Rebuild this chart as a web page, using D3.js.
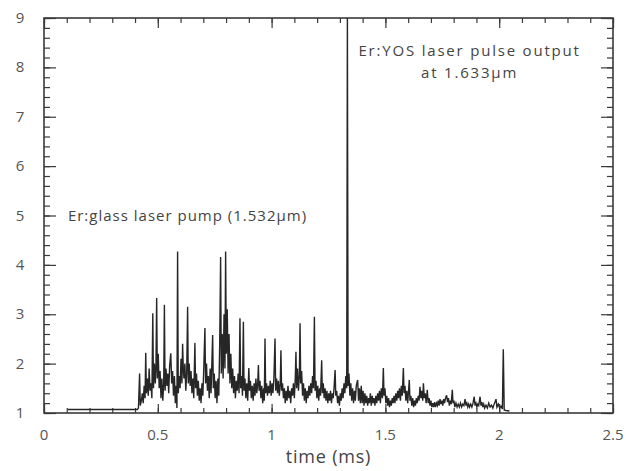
<!DOCTYPE html>
<html>
<head>
<meta charset="utf-8">
<script src="https://cdn.jsdelivr.net/npm/d3@7"></script>
<style>
  body { margin: 0; background: #fff; }
  svg { font-family: "Open Sans", "DejaVu Sans", sans-serif; }
</style>
</head>
<body>
<svg id="chart" width="630" height="471"></svg>
<script>
// pump trace (time in ms, signal in arb. units)
const time = [
  0.105, 0.410, 0.415, 0.420, 0.423, 0.428, 0.432, 0.436, 0.440, 0.444,
  0.447, 0.450, 0.454, 0.458, 0.462, 0.466, 0.470, 0.474, 0.478, 0.481,
  0.485, 0.489, 0.492, 0.495, 0.498, 0.502, 0.506, 0.510, 0.514, 0.518,
  0.522, 0.526, 0.529, 0.532, 0.536, 0.540, 0.544, 0.548, 0.552, 0.557,
  0.561, 0.565, 0.569, 0.573, 0.577, 0.581, 0.584, 0.587, 0.590, 0.594,
  0.598, 0.602, 0.606, 0.609, 0.612, 0.615, 0.619, 0.623, 0.627, 0.631,
  0.634, 0.638, 0.642, 0.646, 0.650, 0.654, 0.658, 0.663, 0.666, 0.670,
  0.674, 0.678, 0.682, 0.686, 0.690, 0.694, 0.698, 0.702, 0.707, 0.710,
  0.714, 0.718, 0.722, 0.726, 0.730, 0.734, 0.738, 0.741, 0.744, 0.748,
  0.752, 0.756, 0.760, 0.764, 0.768, 0.772, 0.776, 0.779, 0.783, 0.787,
  0.791, 0.795, 0.798, 0.801, 0.805, 0.809, 0.813, 0.817, 0.821, 0.825,
  0.829, 0.833, 0.837, 0.841, 0.845, 0.849, 0.853, 0.857, 0.861, 0.864,
  0.868, 0.872, 0.876, 0.879, 0.883, 0.887, 0.891, 0.895, 0.900, 0.903,
  0.907, 0.911, 0.915, 0.919, 0.923, 0.927, 0.931, 0.935, 0.939, 0.942,
  0.945, 0.949, 0.953, 0.957, 0.961, 0.965, 0.968, 0.971, 0.974, 0.978,
  0.982, 0.986, 0.990, 0.994, 0.998, 1.002, 1.006, 1.010, 1.015, 1.018,
  1.022, 1.026, 1.030, 1.034, 1.038, 1.041, 1.044, 1.048, 1.052, 1.056,
  1.060, 1.064, 1.068, 1.072, 1.076, 1.080, 1.084, 1.088, 1.092, 1.096,
  1.100, 1.104, 1.107, 1.110, 1.114, 1.118, 1.122, 1.125, 1.128, 1.132,
  1.136, 1.140, 1.144, 1.148, 1.152, 1.156, 1.160, 1.164, 1.168, 1.172,
  1.176, 1.180, 1.184, 1.188, 1.191, 1.195, 1.199, 1.203, 1.207, 1.211,
  1.215, 1.220, 1.223, 1.227, 1.231, 1.235, 1.239, 1.243, 1.247, 1.251,
  1.255, 1.259, 1.263, 1.267, 1.271, 1.275, 1.279, 1.282, 1.286, 1.290,
  1.294, 1.298, 1.302, 1.306, 1.310, 1.314, 1.318, 1.322, 1.326, 1.330,
  1.333, 1.336, 1.340, 1.344, 1.348, 1.352, 1.356, 1.360, 1.364, 1.368,
  1.372, 1.378, 1.382, 1.386, 1.390, 1.394, 1.398, 1.402, 1.406, 1.410,
  1.414, 1.418, 1.422, 1.426, 1.430, 1.434, 1.438, 1.442, 1.446, 1.450,
  1.454, 1.458, 1.462, 1.466, 1.470, 1.474, 1.478, 1.482, 1.487, 1.491,
  1.494, 1.498, 1.502, 1.506, 1.510, 1.514, 1.518, 1.522, 1.526, 1.530,
  1.534, 1.538, 1.542, 1.546, 1.550, 1.554, 1.558, 1.562, 1.566, 1.570,
  1.574, 1.579, 1.582, 1.586, 1.590, 1.594, 1.598, 1.605, 1.608, 1.612,
  1.616, 1.620, 1.624, 1.628, 1.632, 1.636, 1.640, 1.644, 1.648, 1.652,
  1.656, 1.660, 1.664, 1.667, 1.671, 1.675, 1.679, 1.684, 1.688, 1.692,
  1.696, 1.700, 1.704, 1.708, 1.712, 1.716, 1.720, 1.724, 1.728, 1.732,
  1.736, 1.740, 1.744, 1.748, 1.752, 1.756, 1.760, 1.764, 1.769, 1.773,
  1.777, 1.781, 1.785, 1.789, 1.794, 1.797, 1.801, 1.805, 1.810, 1.815,
  1.820, 1.825, 1.830, 1.835, 1.840, 1.845, 1.850, 1.854, 1.858, 1.862,
  1.866, 1.870, 1.875, 1.880, 1.885, 1.890, 1.894, 1.898, 1.902, 1.906,
  1.910, 1.916, 1.920, 1.924, 1.928, 1.932, 1.936, 1.942, 1.948, 1.954,
  1.960, 1.966, 1.972, 1.978, 1.986, 1.990, 1.996, 2.002, 2.008, 2.014,
  2.018, 2.022, 2.030, 2.045
];

const signal = [
  1.07, 1.07, 1.10, 1.80, 1.15, 1.25, 1.40, 1.20, 1.55, 1.30,
  2.22, 1.40, 1.70, 1.35, 1.90, 1.45, 1.60, 1.30, 3.02, 1.50,
  2.00, 1.60, 1.95, 3.33, 1.70, 2.20, 1.50, 1.85, 1.30, 1.70,
  1.25, 1.60, 3.19, 1.45, 1.90, 1.55, 1.80, 1.40, 1.95, 2.21,
  1.60, 1.85, 1.35, 1.75, 1.20, 1.55, 1.10, 4.27, 1.40, 1.75,
  1.50, 2.10, 1.60, 2.40, 1.90, 1.70, 2.00, 1.45, 1.80, 3.15,
  1.60, 2.00, 1.55, 1.85, 1.40, 1.70, 1.30, 2.42, 1.50, 1.80,
  1.35, 1.65, 1.25, 1.50, 1.20, 1.60, 1.35, 1.90, 2.72, 1.60,
  2.00, 1.45, 1.75, 1.30, 1.90, 1.40, 2.10, 2.58, 1.50, 1.80,
  1.30, 1.65, 1.20, 1.70, 1.35, 2.40, 4.16, 1.80, 2.60, 1.70,
  3.00, 1.90, 4.27, 2.20, 3.10, 1.80, 2.60, 1.60, 2.20, 1.50,
  1.90, 1.40, 1.75, 1.30, 1.65, 1.45, 1.80, 1.40, 2.92, 1.50,
  1.75, 1.35, 2.85, 1.45, 1.70, 1.30, 1.60, 1.25, 1.91, 1.45,
  1.65, 1.30, 1.55, 1.25, 1.60, 1.35, 1.70, 1.40, 1.60, 1.97,
  1.45, 1.65, 1.30, 1.55, 1.20, 1.50, 1.25, 2.51, 1.40, 1.60,
  1.35, 1.55, 1.40, 1.65, 1.35, 1.60, 1.40, 1.70, 2.51, 1.45,
  1.70, 1.40, 1.65, 1.35, 1.60, 2.27, 1.45, 1.60, 1.30, 1.50,
  1.20, 1.45, 1.25, 1.55, 1.30, 1.45, 1.20, 1.50, 1.35, 1.60,
  1.30, 1.70, 2.24, 1.50, 1.90, 1.45, 1.75, 2.82, 1.60, 1.85,
  1.35, 1.60, 1.25, 1.50, 1.20, 1.45, 1.30, 1.55, 1.35, 1.60,
  1.40, 1.75, 1.50, 2.95, 1.45, 1.65, 1.30, 1.55, 1.25, 1.50,
  1.35, 2.07, 1.40, 1.60, 1.30, 1.50, 1.25, 1.45, 1.20, 1.40,
  1.25, 1.45, 1.20, 1.40, 1.30, 1.55, 1.87, 1.35, 1.45, 1.20,
  1.35, 1.15, 1.40, 1.25, 1.50, 1.30, 1.60, 1.40, 1.75, 1.50,
  9.00, 1.55, 1.80, 1.35, 1.60, 1.25, 1.50, 1.20, 1.45, 1.25,
  1.55, 1.67, 1.25, 1.50, 1.20, 1.55, 1.20, 1.45, 1.15, 1.40,
  1.20, 1.35, 1.15, 1.30, 1.20, 1.40, 1.15, 1.35, 1.20, 1.30,
  1.15, 1.35, 1.20, 1.40, 1.25, 1.45, 1.20, 1.50, 1.30, 1.91,
  1.35, 1.50, 1.20, 1.35, 1.15, 1.30, 1.12, 1.25, 1.15, 1.30,
  1.20, 1.35, 1.20, 1.40, 1.25, 1.45, 1.30, 1.50, 1.25, 1.55,
  1.35, 1.91, 1.40, 1.55, 1.25, 1.45, 1.20, 1.67, 1.25, 1.35,
  1.15, 1.30, 1.12, 1.25, 1.15, 1.30, 1.20, 1.35, 1.25, 1.53,
  1.30, 1.45, 1.25, 1.60, 1.30, 1.40, 1.20, 1.47, 1.20, 1.30,
  1.15, 1.25, 1.12, 1.20, 1.12, 1.22, 1.12, 1.20, 1.15, 1.25,
  1.15, 1.28, 1.18, 1.25, 1.15, 1.28, 1.20, 1.30, 1.36, 1.22,
  1.30, 1.15, 1.25, 1.18, 1.47, 1.20, 1.25, 1.12, 1.20, 1.12,
  1.18, 1.12, 1.20, 1.12, 1.18, 1.15, 1.28, 1.15, 1.20, 1.12,
  1.18, 1.12, 1.18, 1.12, 1.20, 1.33, 1.15, 1.20, 1.12, 1.18,
  1.15, 1.33, 1.15, 1.22, 1.12, 1.18, 1.10, 1.16, 1.10, 1.20,
  1.12, 1.16, 1.10, 1.18, 1.28, 1.12, 1.18, 1.10, 1.14, 1.08,
  2.29, 1.06, 1.05, 1.04
];

const xTicks = [0, 0.5, 1, 1.5, 2, 2.5];
const xTickLabels = ['0', '0.5', '1', '1.5', '2', '2.5'];
const yTicks = [1, 2, 3, 4, 5, 6, 7, 8, 9];

const svg = d3.select('#chart');
const margin = { top: 18, right: 17, bottom: 58, left: 44 };
const width = 630 - margin.left - margin.right;
const height = 471 - margin.top - margin.bottom;

const x = d3.scaleLinear().domain([0, 2.5]).range([0, width]);
const y = d3.scaleLinear().domain([1, 9]).range([height, 0]);

const g = svg.append('g').attr('transform', `translate(${margin.left},${margin.top})`);

const ink = '#3a3a3a';
const minorX = d3.range(0, 2.501, 0.1);
const minorY = d3.range(1, 9.001, 0.2);

// inward minor + major ticks on all four sides
function ticks(axis, vals, size) {
  return axis.tickValues(vals).tickSize(-size).tickFormat('');
}
g.append('g').attr('transform', `translate(0,${height})`).call(ticks(d3.axisBottom(x), minorX, 5));
g.append('g').attr('transform', `translate(0,${height})`).call(ticks(d3.axisBottom(x), xTicks, 9));
g.append('g').call(ticks(d3.axisTop(x), minorX, 5));
g.append('g').call(ticks(d3.axisTop(x), xTicks, 10));
g.append('g').call(ticks(d3.axisLeft(y), minorY, 6));
g.append('g').call(ticks(d3.axisLeft(y), yTicks, 12));
g.append('g').attr('transform', `translate(${width},0)`).call(ticks(d3.axisRight(y), minorY, 6));
g.append('g').attr('transform', `translate(${width},0)`).call(ticks(d3.axisRight(y), yTicks, 12));

g.selectAll('.domain').remove();
g.selectAll('.tick line').attr('stroke', ink).attr('stroke-width', 1.2);

g.append('rect')
  .attr('width', width)
  .attr('height', height)
  .attr('fill', 'none')
  .attr('stroke', ink)
  .attr('stroke-width', 1.6);

// tick labels
g.selectAll('.xlab')
  .data(xTicks)
  .enter()
  .append('text')
  .attr('x', (d) => x(d))
  .attr('y', height + 27)
  .attr('text-anchor', 'middle')
  .attr('font-size', 15)
  .attr('fill', '#555')
  .text((d, i) => xTickLabels[i]);

g.selectAll('.ylab')
  .data(yTicks)
  .enter()
  .append('text')
  .attr('x', -24)
  .attr('y', (d) => y(d) + 5)
  .attr('text-anchor', 'middle')
  .attr('font-size', 15)
  .attr('fill', '#555')
  .text((d) => d);

g.append('text')
  .attr('x', width / 2)
  .attr('y', height + 50)
  .attr('text-anchor', 'middle')
  .attr('font-size', 18)
  .attr('letter-spacing', 0.8)
  .attr('fill', '#444')
  .text('time (ms)');

// the trace
const line = d3.line()
  .x((d, i) => x(time[i]))
  .y((d) => y(d));

g.append('path')
  .datum(signal)
  .attr('d', line)
  .attr('fill', 'none')
  .attr('stroke', '#262626')
  .attr('stroke-width', 1.4)
  .attr('stroke-linejoin', 'miter');

// annotations
g.append('text')
  .attr('x', x(0.105))
  .attr('y', y(5) + 5)
  .attr('font-size', 15)
  .attr('letter-spacing', 1)
  .attr('fill', '#444')
  .text('Er:glass laser pump (1.532µm)');

g.append('text')
  .attr('x', x(1.87))
  .attr('y', 38)
  .attr('text-anchor', 'middle')
  .attr('font-size', 15)
  .attr('letter-spacing', 1.8)
  .attr('fill', '#444')
  .text('Er:YOS laser pulse output');

g.append('text')
  .attr('x', x(1.87))
  .attr('y', 60)
  .attr('text-anchor', 'middle')
  .attr('font-size', 15)
  .attr('letter-spacing', 1.8)
  .attr('fill', '#444')
  .text('at 1.633µm');
</script>
</body>
</html>
